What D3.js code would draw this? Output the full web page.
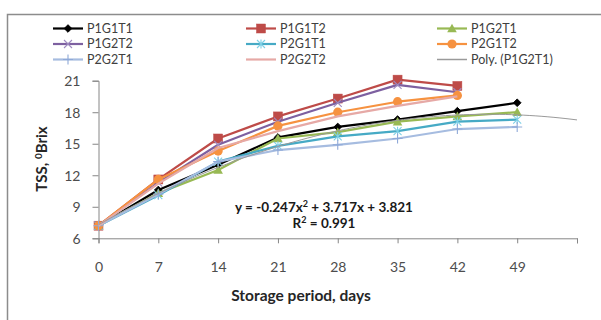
<!DOCTYPE html>
<html><head><meta charset="utf-8">
<script src="https://cdn.jsdelivr.net/npm/d3@7"></script>
<style>
html,body{margin:0;padding:0;background:#fff;}
svg{display:block;font-family:Lato,"Open Sans",sans-serif;}
</style></head>
<body>
<svg id="chart" width="601" height="320"></svg>
<script>
const days = [0, 7, 14, 21, 28, 35, 42, 49];
const xTicks = [0, 7, 14, 21, 28, 35, 42, 49, 56];
const yTicks = [6, 9, 12, 15, 18, 21];
const seriesNames = ["P1G1T1","P1G1T2","P1G2T1","P1G2T2","P2G1T1","P2G1T2","P2G2T1","P2G2T2"];
const P1G1T1 = [7.2, 10.6, 13.0, 15.6, 16.6, 17.3, 18.1, 18.9];
const P1G1T2 = [7.2, 11.6, 15.5, 17.6, 19.3, 21.1, 20.5];
const P1G2T1 = [7.2, 10.3, 12.5, 15.5, 16.1, 17.1, 17.6, 18.0];
const P1G2T2 = [7.2, 11.3, 14.9, 17.1, 18.9, 20.6, 19.9];
const P2G1T1 = [7.2, 10.1, 13.3, 14.8, 15.7, 16.2, 17.1, 17.3];
const P2G1T2 = [7.2, 11.6, 14.3, 16.7, 18.0, 19.0, 19.6];
const P2G2T1 = [7.2, 10.2, 13.3, 14.4, 14.9, 15.5, 16.4, 16.6];
const P2G2T2 = [7.2, 11.2, 14.6, 16.2, 17.6, 18.6, 19.5];
const polyCoef = [-0.247, 3.717, 3.821]; // Poly. (P1G2T1): y = a x^2 + b x + c, x = point index
const eqText = ["y = -0.247x", "2", " + 3.717x + 3.821"];
const r2Text = ["R", "2", " = 0.991"];

const allValues = [P1G1T1,P1G1T2,P1G2T1,P1G2T2,P2G1T1,P2G1T2,P2G2T1,P2G2T2];
const colors = ["#000000","#BE4B48","#98B954","#7D60A0","#46AAC5","#F69240","#A6BCE0","#E6A9A6"];
const markers = ["diamond","square","triangle","x","asterisk","circle","plus","none"];

const svg = d3.select("#chart");
const x = d3.scaleLinear().domain([0, 56]).range([98.5, 577]);
const y = d3.scaleLinear().domain([6, 21]).range([238.3, 80.7]);

// frame
svg.append("path").attr("d","M7.5,320 V14.5 H601").attr("fill","none").attr("stroke","#8c8c8c").attr("stroke-width",1.5);

// axes
const axisColor = "#868686";
const xAxis = svg.append("g").attr("transform",`translate(0,${y(6)})`)
  .call(d3.axisBottom(x).tickValues(xTicks).tickSize(5).tickFormat(d => d===56 ? "" : d));
const yAxis = svg.append("g").attr("transform",`translate(${x(0)},0)`)
  .call(d3.axisLeft(y).tickValues(yTicks).tickSize(6).tickPadding(12));
[xAxis,yAxis].forEach(g => {
  g.select(".domain").attr("stroke",axisColor);
  g.selectAll(".tick line").attr("stroke",axisColor);
  g.selectAll("text").attr("fill","#4d4d4d").style("font-size","14px").style("font-family","Lato, sans-serif");
});
xAxis.selectAll("text").attr("dy","0").attr("y",34);
yAxis.selectAll("text").attr("dy","0.36em");

// axis titles
svg.append("text").attr("x",301).attr("y",301).attr("text-anchor","middle")
  .style("font-size","15.5px").style("font-weight","bold").attr("fill","#262626").text("Storage period, days");
const yt = svg.append("text").attr("transform","translate(47,159) rotate(-90)").attr("text-anchor","middle")
  .style("font-size","15px").style("font-weight","bold").attr("fill","#262626");
yt.append("tspan").text("TSS, ");
yt.append("tspan").attr("dy",-5).style("font-size","10px").text("0");
yt.append("tspan").attr("dy",5).text("Brix");

// marker drawing
function drawMarker(g, type, cx, cy, color) {
  const s = 3.8;
  if (type==="diamond") g.append("path").attr("d",`M${cx},${cy-s} L${cx+s},${cy} L${cx},${cy+s} L${cx-s},${cy} Z`).attr("fill",color).attr("stroke",color);
  else if (type==="square") g.append("rect").attr("x",cx-4.5).attr("y",cy-4.5).attr("width",9).attr("height",9).attr("fill",color).attr("stroke",color).attr("stroke-width",0.5);
  else if (type==="triangle") g.append("path").attr("d",`M${cx},${cy-4.8} L${cx+4.8},${cy+3.8} L${cx-4.8},${cy+3.8} Z`).attr("fill",color);
  else if (type==="circle") g.append("circle").attr("cx",cx).attr("cy",cy).attr("r",4.6).attr("fill",color);
  else if (type==="x") g.append("path").attr("d",`M${cx-4},${cy-4} L${cx+4},${cy+4} M${cx-4},${cy+4} L${cx+4},${cy-4}`).attr("stroke","#9f8cc0").attr("stroke-width",1.1);
  else if (type==="asterisk") g.append("path").attr("d",`M${cx-4},${cy-4} L${cx+4},${cy+4} M${cx-4},${cy+4} L${cx+4},${cy-4} M${cx},${cy-4.5} L${cx},${cy+4.5}`).attr("stroke","#7fd0e6").attr("stroke-width",1.1);
  else if (type==="plus") g.append("path").attr("d",`M${cx-5},${cy} L${cx+5},${cy} M${cx},${cy-5} L${cx},${cy+5}`).attr("stroke","#8fa9d8").attr("stroke-width",1.1);
}

const line = d3.line().x((d,i) => x(days[i])).y(d => y(d));
const plot = svg.append("g");
allValues.forEach((vals, k) => {
  const g = plot.append("g");
  g.append("path").datum(vals).attr("d", line).attr("fill","none")
    .attr("stroke", colors[k]).attr("stroke-width", 2.2).attr("stroke-linejoin","round");
  vals.forEach((v,i) => drawMarker(g, markers[k], x(days[i]), y(v), colors[k]));
});

// polynomial trendline
const idx = d3.range(1, 9.001, 0.1);
const polyLine = d3.line().x(t => x((t-1)*7)).y(t => y(polyCoef[0]*t*t + polyCoef[1]*t + polyCoef[2]));
plot.append("path").datum(idx).attr("d", polyLine).attr("fill","none").attr("stroke","#9a9a9a").attr("stroke-width",1);

// equation
const eq = svg.append("text").attr("x",324).attr("y",212).attr("text-anchor","middle")
  .style("font-size","13.5px").style("font-weight","bold").attr("fill","#1a1a1a");
eq.append("tspan").text(eqText[0]);
eq.append("tspan").attr("dy",-5).style("font-size","9px").text(eqText[1]);
eq.append("tspan").attr("dy",5).text(eqText[2]);
const r2 = svg.append("text").attr("x",324).attr("y",228).attr("text-anchor","middle")
  .style("font-size","13.5px").style("font-weight","bold").attr("fill","#1a1a1a");
r2.append("tspan").text(r2Text[0]);
r2.append("tspan").attr("dy",-5).style("font-size","9px").text(r2Text[1]);
r2.append("tspan").attr("dy",5).text(r2Text[2]);

// legend
const legendNames = [...seriesNames, "Poly. (P1G2T1)"];
const legendColors = [...colors, "#9a9a9a"];
const legendMarkers = [...markers, "none"];
const colX = [53, 246, 437];
const rowY = [28.5, 44, 59.5];
legendNames.forEach((name, k) => {
  const col = k % 3, row = Math.floor(k / 3);
  const lx = colX[col], ly = rowY[row];
  const g = svg.append("g");
  g.append("line").attr("x1",lx).attr("x2",lx+30).attr("y1",ly).attr("y2",ly)
    .attr("stroke",legendColors[k]).attr("stroke-width", k===8 ? 1.5 : 2.2);
  drawMarker(g, legendMarkers[k], lx+15, ly, legendColors[k]);
  g.append("text").attr("x",lx+34).attr("y",ly).attr("dy","0.35em")
    .style("font-size","12.5px").attr("fill","#404040").text(name);
});
</script>
</body></html>
